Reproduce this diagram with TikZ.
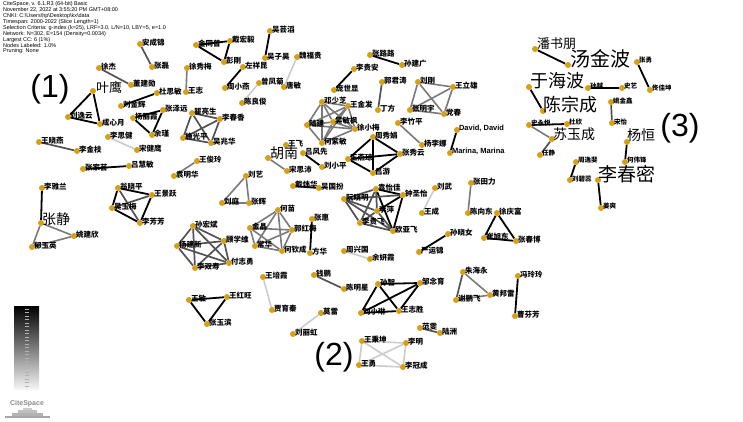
\documentclass[tikz,border=0pt]{standalone}
\usepackage{fontspec}
\newfontfamily\cjk{Noto Sans CJK SC}
\newfontfamily\hfont{Liberation Sans}
\usetikzlibrary{calc}
\pgfdeclarelayer{bg}
\pgfdeclarelayer{back}
\pgfsetlayers{back,bg,main}
\definecolor{nodec}{RGB}{214,160,20}
\tikzset{
  dot/.style={circle, fill=nodec, inner sep=0pt, minimum size=6pt},
  lab/.style={anchor=west, inner sep=0.3pt, font=\cjk\bfseries\fontsize{7.5}{8}\selectfont},
  slab/.style={anchor=west, inner sep=0.3pt, font=\cjk\bfseries\fontsize{6.5}{7}\selectfont},
  big/.style={anchor=west, inner sep=0pt},
  eb/.style={draw=black, line width=1.8pt},
  ed/.style={draw=black!68, line width=1.7pt},
  eg/.style={draw=black!52, line width=1.6pt},
  el/.style={draw=black!20, line width=1.6pt},
  grp/.style={font=\hfont\fontsize{32}{32}\selectfont, inner sep=0pt}
}
\newcommand\pn[3]{\node[dot] (#1) at (#2) {}; \node[lab] (#1t) at ([xshift=1.5pt,yshift=1.5pt]#1.center) {#3};}
\newcommand\ps[3]{\node[dot] (#1) at (#2) {}; \node[slab] (#1t) at ([xshift=1.5pt,yshift=1.5pt]#1.center) {#3};}
\newcommand\pb[5]{\node[dot] (#1) at (#2) {}; \node[big, font=\cjk\fontsize{#5}{#5}\selectfont] (#1t) at (#3) {#4};}
\begin{document}
\begin{tikzpicture}[x=1pt,y=-1pt]
\useasboundingbox (0,0) rectangle (743,421);
\begin{pgfonlayer}{back}
\fill[white] (0,0) rectangle (743,421);
\end{pgfonlayer}
% header
\node[anchor=north west, align=left, inner sep=0pt, font=\hfont\fontsize{5.5}{4.55}\selectfont] (hdr) at (3,1) {CiteSpace, v. 6.1.R3 (64-bit) Basic\\
November 22, 2022 at 3:55:20 PM GMT+08:00\\
CNKI: C:\textbackslash Users\textbackslash hp\textbackslash Desktop\textbackslash kx\textbackslash data\\
Timespan: 2000-2022 (Slice Length=1)\\
Selection Criteria: g-index (k=25), LRF=3.0, L/N=10, LBY=5, e=1.0\\
Network: N=302, E=154 (Density=0.0034)\\
Largest CC: 6 (1\%)\\
Nodes Labeled: 1.0\%\\
Pruning: None};
% legend
\shade[top color=black, bottom color=black!4] (14,306) rectangle (39,389);
\foreach \i in {0,...,22} \draw[black!30, line width=0.6pt] (25,{309+\i*3.5}) -- (29,{309+\i*3.5});
\node[font=\hfont\bfseries\fontsize{7}{7}\selectfont, text=black!45, inner sep=0pt] (logo) at (27,404) {CiteSpace};
\fill[black!35] (5,416) rectangle (50,417.5);
\fill[black!30] (12,413) rectangle (43,416);
\fill[black!25] (18,410) rectangle (37,413);
\fill[black!20] (23,408) rectangle (32,410);
% group labels
\node[grp] (g1lab) at (50,89) {(1)};
\node[grp] (g2lab) at (334,357) {(2)};
\node[grp] (g3lab) at (680,128) {(3)};
% ---- nodes group A
\pn{a1}{140,44}{安成锦}
\pn{a2}{152,67}{张磊}
\pn{a3}{99,68}{徐杰}
\pn{a4}{131,85}{董建勋}
\pb{a5}{93,91}{96,88}{叶鹰}{13}
\pn{a6}{68,117}{刘逸云}
\pn{a7}{100,124}{成心月}
\pn{a8}{121,106}{刘金辉}
\pn{a9}{157,93}{杜思敏}
\pn{a10}{187,68}{徐秀梅}
\pn{a11}{186,92}{王志}
\pn{a12}{163,110}{张泽远}
\pn{a13}{133,118}{杨丽霞}
\pn{a14}{152,135}{余瑾}
\pn{a15}{39,142}{王晓燕}
\pn{a16}{77,151}{李金枝}
\pn{a17}{108,137}{李思健}
\pn{a18}{137,150}{宋健鹰}
\pn{a19}{83,169}{张家芸}
\pn{a20}{129,166}{吕慧敏}
\pn{a21}{174,176}{袁明华}
\pn{a22}{197,161}{王俊玲}
\pn{a23}{192,113}{瞿亮生}
\pn{a24}{220,119}{李春香}
\pn{a25}{183,138}{施光平}
\pn{a26}{211,143}{吴兆华}
% group B
\pn{b1}{196,45}{金同普}
\pn{b2}{230,41}{戴宏毅}
\pn{b3}{224,62}{彭刚}
\pn{b4}{270,31}{吴芸滔}
\pn{b5}{265,58}{吴子昊}
\pn{b6}{243,67}{左祥昆}
\pn{b7}{225,88}{周小燕}
\pn{b8}{259,83}{曾凤菊}
\pn{b9}{242,103}{陈良俊}
\pn{b10}{297,57}{魏福贵}
\pn{b11}{284,87}{唐敏}
\pn{b12}{354,69}{李贵安}
\pn{b13}{334,90}{庞世显}
\pn{b14}{370,55}{张路路}
\pn{b15}{402,65}{孙建广}
\pn{b16}{382,82}{郭君涛}
\pn{b17}{378,110}{丁方}
\pn{b18}{418,82}{刘刚}
\pn{b19}{453,87}{王立雄}
\pn{b20}{410,110}{张明宇}
\pn{b21}{444,114}{党春}
\pn{b22}{398,123}{李竹平}
\pn{b23}{422,145}{杨李娜}
\node[dot] (b24) at (457,130) {};
\node[anchor=west, inner sep=0.3pt, font=\hfont\bfseries\fontsize{7.5}{8}\selectfont] (b24t) at ([xshift=1.5pt,yshift=1.5pt]b24.center) {David, David};
\node[dot] (b25) at (450,153) {};
\node[anchor=west, inner sep=0.3pt, font=\hfont\bfseries\fontsize{7.5}{8}\selectfont] (b25t) at ([xshift=1.5pt,yshift=1.5pt]b25.center) {Marina, Marina};
% group C
\pn{c1}{322,102}{邓少芝}
\pn{c2}{348,106}{王金发}
\pn{c3}{307,125}{陆建}
\pn{c4}{333,122}{吴敏枫}
\pn{c5}{355,129}{徐小梅}
\pn{c6}{322,143}{何紫敏}
\pn{c7}{373,137}{周秀娟}
\pn{c8}{400,154}{张秀云}
\pn{c9}{348,159}{王燕琼}
\pn{c10}{373,173}{吕游}
\pn{c11}{286,145}{王飞}
\pb{c12}{268,158}{270,153}{胡南}{14}
\pn{c13}{303,153}{吕风先}
\pn{c14}{287,171}{宋思沛}
\pn{c15}{322,167}{刘小平}
\pn{c16}{293,186}{戴炜华}
\pn{c17}{319,188}{吴国扮}
% group D
\pn{d1}{344,199}{阮晓明}
\pn{d2}{376,189}{袁怡佳}
\pn{d3}{403,195}{钟圣怡}
\pn{d4}{377,211}{李萍}
\pn{d5}{360,223}{李贵飞}
\pn{d6}{393,231}{欧亚飞}
\pn{d7}{435,188}{刘武}
\pn{d8}{422,213}{王成}
\pn{d9}{471,183}{张田力}
\pn{d10}{468,213}{陈向东}
\pn{d11}{497,213}{徐庆富}
\pn{d12}{484,238}{崔旭东}
\pn{d13}{516,241}{张春博}
\pn{d14}{448,234}{孙晓女}
\pn{d15}{419,252}{严运锦}
% group E
\pn{e1}{42,188}{李雅兰}
\pb{e2}{41,223}{42,219}{张静}{14}
\pn{e3}{74,236}{姚建欣}
\pn{e4}{32,247}{郁玉英}
\pn{e5}{118,188}{翁晓平}
\pn{e6}{152,195}{王景跃}
\pn{e7}{112,208}{吴玉梅}
\pn{e8}{140,223}{李芳芳}
% group F
\pn{f1}{246,176}{刘艺}
\pn{f2}{222,203}{刘庭}
\pn{f3}{249,203}{张辉}
\pn{f4}{278,210}{何苗}
\pn{f5}{250,228}{金晶}
\pn{f6}{292,230}{郭红梅}
\pn{f7}{255,246}{常华}
\pn{f8}{282,251}{何钦成}
\pn{f9}{312,219}{张惠}
\pn{f10}{310,253}{方华}
\pn{f11}{193,226}{孙宏斌}
\pn{f12}{177,246}{杨建新}
\pn{f13}{224,241}{顾学维}
\pn{f14}{195,268}{李双寿}
\pn{f15}{229,263}{付志勇}
\pn{f16}{344,251}{周兴国}
\pn{f17}{370,259}{余妍霞}
% group G
\pn{g1}{263,277}{王培霞}
\pn{g2}{272,310}{贾育秦}
\pn{g3}{189,300}{王敏}
\pn{g4}{227,297}{王红旺}
\pn{g5}{207,324}{张玉滨}
\pn{g6}{314,275}{钱鹏}
\pn{g7}{344,289}{陈明星}
\pn{g8}{321,313}{莫雷}
\pn{g9}{293,334}{刘丽虹}
\pn{g10}{378,284}{孙智}
\pn{g11}{420,283}{邹念育}
\pn{g12}{361,313}{刘小琳}
\pn{g13}{399,311}{王志胜}
\pn{g14}{463,272}{朱海永}
\pn{g15}{490,295}{黄邦雷}
\pn{g16}{456,300}{谢鹏飞}
\pn{g17}{518,276}{冯玲玲}
\pn{g18}{515,316}{曹芬芳}
\pn{g19}{420,328}{范雯}
\pn{g20}{440,333}{陆洲}
\pn{g21}{362,341}{王秉坤}
\pn{g22}{406,343}{李明}
\pn{g23}{359,365}{王勇}
\pn{g24}{403,367}{李冠成}
% group H
\pb{h1}{535,49}{537,44}{潘书朋}{13}
\pb{h2}{568,65}{570,59}{汤金波}{20}
\ps{h3}{637,62}{张勇}
\ps{h4}{650,90}{佟佳坤}
\pb{h5}{529,87}{530,81}{于海波}{18}
\pb{h6}{543,111}{543,105}{陈宗成}{18}
\ps{h7}{588,88}{孙越}
\ps{h8}{622,88}{史艺}
\ps{h9}{611,102}{姚金鑫}
\ps{h10}{612,123}{宋怡}
\ps{h11}{529,125}{史永悦}
\ps{h12}{567,124}{杜欣}
\pb{h13}{552,139}{553,134}{苏玉成}{14}
\ps{h14}{540,155}{任静}
\pb{h15}{627,142}{627,135}{杨恒}{14}
\ps{h16}{625,162}{何伟锋}
\ps{h17}{576,162}{周逸斐}
\ps{h18}{570,180}{刘碧蕊}
\pb{h19}{598,180}{598,174}{李春密}{19}
\ps{h20}{601,208}{姜爽}
% ---- edges
\begin{pgfonlayer}{bg}
\foreach \p/\q in {a5/a6,a5/a7,a6/a7,a8/a9,a12/a13,a12/a14,a13/a14,a19/a20,
  b1/b2,b1/b3,b2/b3,b4/b5,b6/b7,b12/b13,b14/b15,b24/b25,
  c7/c8,c7/c9,c7/c10,c8/c9,c8/c10,c9/c10,c13/c15,c16/c17,
  d2/d3,d3/d6,d2/d6,d4/d3,d11/d12,d11/d13,d12/d13,d14/d15,
  e1/e2,e5/e6,e5/e7,e7/e8,e6/e8,f9/f10,
  g3/g4,g3/g5,g4/g5,g10/g11,g10/g12,g10/g13,g11/g12,g11/g13,g12/g13,g17/g18,
  h1/h2,h3/h4,h5/h6,h7/h8,h11/h12,h15/h16,h17/h18,h19/h20}
  \draw[eb] (\p) -- (\q);
\foreach \p/\q in {a1/a2,a3/a4,a15/a16,a23/a24,a23/a25,a23/a26,a24/a25,a24/a26,a25/a26,
  b16/b17,d1/d2,d1/d4,d1/d5,d1/d6,d2/d4,d2/d5,d4/d5,d4/d6,d5/d6,d1/d3,
  e5/e8,e6/e7,f11/f12,f11/f13,f11/f14,f11/f15,f12/f13,f12/f14,f12/f15,f13/f14,f13/f15,f14/f15,
  g6/g7,g19/g20,g14/g16,h9/h10,h13/h14}
  \draw[ed] (\p) -- (\q);
\foreach \p/\q in {a10/a11,a21/a22,b18/b19,b18/b20,b18/b21,b19/b20,b19/b21,b20/b21,b22/b23,
  c1/c2,c1/c3,c1/c4,c1/c5,c1/c6,c2/c3,c2/c4,c2/c5,c2/c6,c3/c4,c3/c6,c4/c5,c4/c6,c5/c6,c3/c5,
  c12/c14,d9/d10,e2/e3,e2/e4,e3/e4,f1/f2,f1/f3,f2/f3,
  f4/f5,f4/f6,f4/f7,f4/f8,f5/f6,f5/f7,f5/f8,f6/f7,f6/f8,f7/f8,
  g14/g15,g15/g16,h11/h13}
  \draw[eg] (\p) -- (\q);
\foreach \p/\q in {a17/a18,b10/b11,b8/b9,d7/d8,f16/f17,g1/g2,g8/g9,
  g21/g22,g21/g23,g21/g24,g22/g23,g22/g24,g23/g24}
  \draw[el] (\p) -- (\q);
\end{pgfonlayer}
\end{tikzpicture}
\end{document}
